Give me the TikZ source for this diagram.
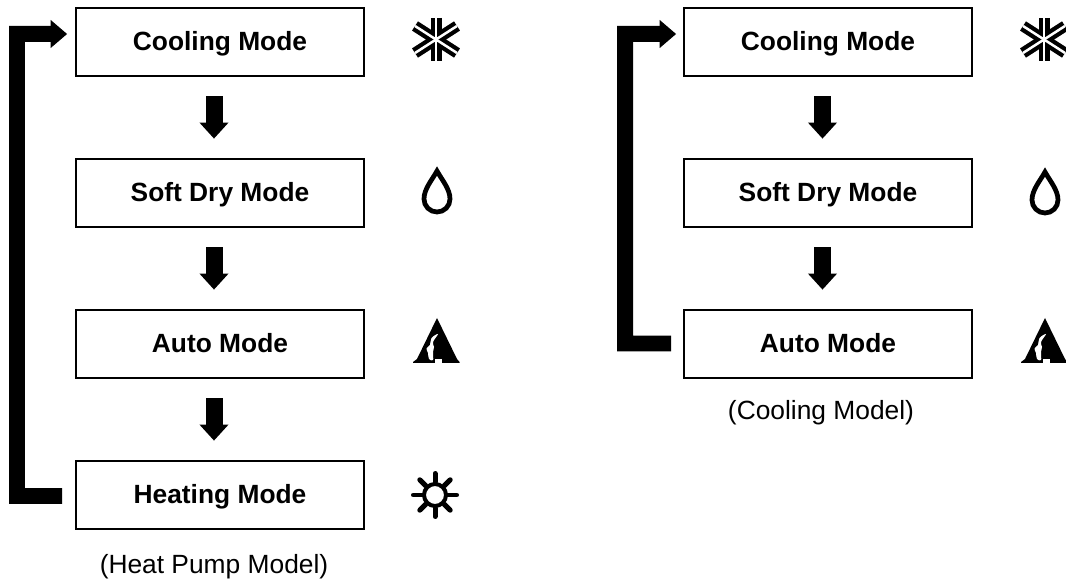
\documentclass[tikz,border=0pt]{standalone}
\usepackage{fontspec}
\setmainfont{Liberation Sans}
\usetikzlibrary{arrows.meta}

\tikzset{
  modebox/.style={rectangle,draw,line width=1pt,minimum width=5.76cm,minimum height=1.36cm,
    inner sep=0pt,text height=.43cm,text depth=.09cm,font=\fontsize{15}{18}\selectfont\bfseries},
  modelabel/.style={inner sep=0pt,font=\fontsize{15}{18}\selectfont},
  steparrow/.style={line width=.34cm,-{Triangle[width=.56cm,length=.32cm]},shorten <=.39cm,shorten >=.39cm},
  looparrow/.style={line width=.32cm,-{Triangle[width=.54cm,length=.33cm]}},
  snowicon/.pic={
    \foreach \a/\b in {0/-21.5,21/-13.5,21/13.5}
      \draw[line width=.22cm] (-\a,\b) -- (\a,-\b);
    \foreach \a/\b in {0/-21.5,21/-13.5,21/13.5}
      \draw[white,line width=.05cm] (-\a,\b) -- (\a,-\b);
  },
  dropicon/.pic={
    \draw[line width=.095cm,line join=miter] (0,-20) .. controls (5,-11) and (13,-2) .. (13,8)
      arc[start angle=0,end angle=180,radius=13] .. controls (-13,-2) and (-5,-11) .. cycle;
  },
  autoicon/.pic={
    \fill (0,-22) -- (20,19) -- (22.5,22) -- (22.5,23) -- (-24,23) -- (-24,22) -- (-20,19) -- cycle;
    \fill[white] plot[smooth cycle,tension=.6] coordinates {(1,-6) (-5.5,-2) (-7,5) (-10.5,8.5) (-9,13)
      (-8,19) (-4,20) (-4,12) (-3,7) (-4,2)};
    \fill[white] (-2.5,19) rectangle (4.5,23.5);
  },
  sunicon/.pic={
    \draw[line width=.08cm] (0,0) circle[radius=11];
    \foreach \r in {0,45,...,315}
      \draw[line width=.1cm,line cap=round] (\r:13) -- (\r:21.5);
  }
}

\begin{document}
\begin{tikzpicture}[x=.02cm,y=-.02cm]
  \useasboundingbox (0,0) rectangle (1066,584);

  % heat pump model
  \node[modebox] (cool1) at (220,42) {Cooling Mode};
  \node[modebox] (dry1) at (220,193) {Soft Dry Mode};
  \node[modebox] (auto1) at (220,344) {Auto Mode};
  \node[modebox] (heat1) at (220,495) {Heating Mode};
  \node[modelabel] (model1) at (214,567) {(Heat Pump Model)};

  \draw[steparrow] ([xshift=-.12cm]cool1.south) -- ([xshift=-.12cm]dry1.north);
  \draw[steparrow] ([xshift=-.12cm]dry1.south) -- ([xshift=-.12cm]auto1.north);
  \draw[steparrow] ([xshift=-.12cm]auto1.south) -- ([xshift=-.12cm]heat1.north);

  \coordinate (low1) at (17,496);
  \coordinate (top1) at (17,34);
  \draw[looparrow,shorten <=.26cm,shorten >=.16cm] ([yshift=-.02cm]heat1.west) -- (low1) -- (top1) -- ([yshift=.16cm]cool1.west);

  \pic at (436,39.5) {snowicon};
  \pic at (437,191) {dropicon};
  \pic at (437,340) {autoicon};
  \pic at (435,495) {sunicon};

  % cooling model
  \node[modebox] (cool2) at (828,42) {Cooling Mode};
  \node[modebox] (dry2) at (828,193) {Soft Dry Mode};
  \node[modebox] (auto2) at (828,344) {Auto Mode};
  \node[modelabel] (model2) at (821,413) {(Cooling Model)};

  \draw[steparrow] ([xshift=-.11cm]cool2.south) -- ([xshift=-.11cm]dry2.north);
  \draw[steparrow] ([xshift=-.11cm]dry2.south) -- ([xshift=-.11cm]auto2.north);

  \coordinate (low2) at (625,343.5);
  \coordinate (top2) at (625,34);
  \draw[looparrow,shorten <=.24cm,shorten >=.14cm] ([yshift=.01cm]auto2.west) -- (low2) -- (top2) -- ([yshift=.16cm]cool2.west);

  \pic at (1044,39.5) {snowicon};
  \pic at (1045,192) {dropicon};
  \pic at (1045,340) {autoicon};
\end{tikzpicture}
\end{document}
